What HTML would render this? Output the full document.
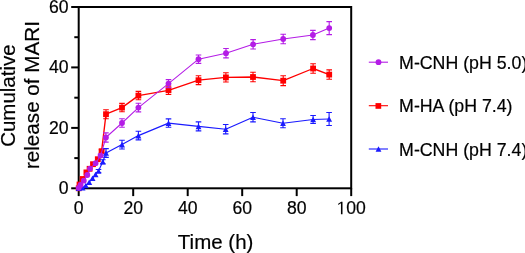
<!DOCTYPE html>
<html><head><meta charset="utf-8"><style>
html,body{margin:0;padding:0;background:#fff;}
body{width:525px;height:253px;overflow:hidden;}
svg{display:block;will-change:transform;}
text{font-family:"Liberation Sans",sans-serif;fill:#000;stroke:#000;stroke-width:0.2px;}
.tk{font-size:17.6px;}
.ti{font-size:20.5px;}
.lg{font-size:17.75px;}
</style></head><body>
<svg width="525" height="253" viewBox="0 0 525 253">
<rect x="78.7" y="7.0" width="272.5" height="181.3" fill="none" stroke="#000" stroke-width="2"/>
<path d="M71.2 188.3H78.7" stroke="#000" stroke-width="2"/>
<text x="68.6" y="194.3" text-anchor="end" class="tk">0</text>
<path d="M71.2 127.9H78.7" stroke="#000" stroke-width="2"/>
<text x="68.6" y="133.9" text-anchor="end" class="tk">20</text>
<path d="M71.2 67.4H78.7" stroke="#000" stroke-width="2"/>
<text x="68.6" y="73.4" text-anchor="end" class="tk">40</text>
<path d="M71.2 7.0H78.7" stroke="#000" stroke-width="2"/>
<text x="68.6" y="13.0" text-anchor="end" class="tk">60</text>
<path d="M74.3 158.1H78.7" stroke="#000" stroke-width="2"/>
<path d="M74.3 97.7H78.7" stroke="#000" stroke-width="2"/>
<path d="M74.3 37.2H78.7" stroke="#000" stroke-width="2"/>
<path d="M78.7 188.3V196.1" stroke="#000" stroke-width="2"/>
<text x="78.7" y="214.2" text-anchor="middle" class="tk">0</text>
<path d="M133.2 188.3V196.1" stroke="#000" stroke-width="2"/>
<text x="133.2" y="214.2" text-anchor="middle" class="tk">20</text>
<path d="M187.7 188.3V196.1" stroke="#000" stroke-width="2"/>
<text x="187.7" y="214.2" text-anchor="middle" class="tk">40</text>
<path d="M242.2 188.3V196.1" stroke="#000" stroke-width="2"/>
<text x="242.2" y="214.2" text-anchor="middle" class="tk">60</text>
<path d="M296.7 188.3V196.1" stroke="#000" stroke-width="2"/>
<text x="296.7" y="214.2" text-anchor="middle" class="tk">80</text>
<path d="M351.2 188.3V196.1" stroke="#000" stroke-width="2"/>
<path transform="translate(336.52,214.2) scale(0.008594,-0.008594)" d="M515 0L515 1280L197 1060L197 1226L540 1460L696 1460L696 0Z" fill="#000"/>
<text x="346.31" y="214.2" class="tk">00</text>
<polyline points="78.7,188.3 79.5,184.5 82.6,179.0 86.4,172.4 89.6,168.8 93.0,164.2 97.8,159.2 101.6,151.2 106.0,114.2 122.0,107.6 138.4,95.6 168.5,90.3 198.5,80.2 225.9,77.4 253.0,77.0 283.2,80.7 313.1,68.5 329.2,74.6" fill="none" stroke="#FF0000" stroke-width="1.35" stroke-linejoin="round"/>
<path d="M101.6 149.7V152.7M98.8 149.7h5.6M98.8 152.7h5.6" stroke="#FF0000" stroke-width="1.1" fill="none"/><path d="M106.0 109.7V118.7M103.2 109.7h5.6M103.2 118.7h5.6" stroke="#FF0000" stroke-width="1.1" fill="none"/><path d="M122.0 103.4V111.8M119.2 103.4h5.6M119.2 111.8h5.6" stroke="#FF0000" stroke-width="1.1" fill="none"/><path d="M138.4 91.4V99.8M135.6 91.4h5.6M135.6 99.8h5.6" stroke="#FF0000" stroke-width="1.1" fill="none"/><path d="M168.5 86.1V94.5M165.7 86.1h5.6M165.7 94.5h5.6" stroke="#FF0000" stroke-width="1.1" fill="none"/><path d="M198.5 75.8V84.6M195.7 75.8h5.6M195.7 84.6h5.6" stroke="#FF0000" stroke-width="1.1" fill="none"/><path d="M225.9 72.8V82.0M223.1 72.8h5.6M223.1 82.0h5.6" stroke="#FF0000" stroke-width="1.1" fill="none"/><path d="M253.0 72.3V81.7M250.2 72.3h5.6M250.2 81.7h5.6" stroke="#FF0000" stroke-width="1.1" fill="none"/><path d="M283.2 75.8V85.6M280.4 75.8h5.6M280.4 85.6h5.6" stroke="#FF0000" stroke-width="1.1" fill="none"/><path d="M313.1 63.8V73.2M310.3 63.8h5.6M310.3 73.2h5.6" stroke="#FF0000" stroke-width="1.1" fill="none"/><path d="M329.2 69.9V79.3M326.4 69.9h5.6M326.4 79.3h5.6" stroke="#FF0000" stroke-width="1.1" fill="none"/>
<rect x="75.8" y="185.4" width="5.8" height="5.8" fill="#FF0000"/>
<rect x="76.6" y="181.6" width="5.8" height="5.8" fill="#FF0000"/>
<rect x="79.7" y="176.1" width="5.8" height="5.8" fill="#FF0000"/>
<rect x="83.5" y="169.5" width="5.8" height="5.8" fill="#FF0000"/>
<rect x="86.7" y="165.9" width="5.8" height="5.8" fill="#FF0000"/>
<rect x="90.1" y="161.3" width="5.8" height="5.8" fill="#FF0000"/>
<rect x="94.9" y="156.3" width="5.8" height="5.8" fill="#FF0000"/>
<rect x="98.7" y="148.3" width="5.8" height="5.8" fill="#FF0000"/>
<rect x="103.1" y="111.3" width="5.8" height="5.8" fill="#FF0000"/>
<rect x="119.1" y="104.7" width="5.8" height="5.8" fill="#FF0000"/>
<rect x="135.5" y="92.7" width="5.8" height="5.8" fill="#FF0000"/>
<rect x="165.6" y="87.4" width="5.8" height="5.8" fill="#FF0000"/>
<rect x="195.6" y="77.3" width="5.8" height="5.8" fill="#FF0000"/>
<rect x="223.0" y="74.5" width="5.8" height="5.8" fill="#FF0000"/>
<rect x="250.1" y="74.1" width="5.8" height="5.8" fill="#FF0000"/>
<rect x="280.3" y="77.8" width="5.8" height="5.8" fill="#FF0000"/>
<rect x="310.2" y="65.6" width="5.8" height="5.8" fill="#FF0000"/>
<rect x="326.3" y="71.7" width="5.8" height="5.8" fill="#FF0000"/>
<polyline points="78.7,188.3 82.5,187.8 85.8,185.5 89.2,182.2 92.5,178.3 95.5,174.5 98.5,171.0 102.8,161.8 106.0,153.0 122.0,144.6 138.4,135.6 168.5,123.1 198.5,126.4 225.7,129.2 253.0,117.2 283.0,123.2 313.1,119.5 329.1,119.0" fill="none" stroke="#1A1AFF" stroke-width="1.15" stroke-linejoin="round"/>
<path d="M98.5 169.5V172.5M95.7 169.5h5.6M95.7 172.5h5.6" stroke="#1A1AFF" stroke-width="1.1" fill="none"/><path d="M102.8 159.8V163.8M100.0 159.8h5.6M100.0 163.8h5.6" stroke="#1A1AFF" stroke-width="1.1" fill="none"/><path d="M106.0 148.6V157.4M103.2 148.6h5.6M103.2 157.4h5.6" stroke="#1A1AFF" stroke-width="1.1" fill="none"/><path d="M122.0 140.2V149.0M119.2 140.2h5.6M119.2 149.0h5.6" stroke="#1A1AFF" stroke-width="1.1" fill="none"/><path d="M138.4 131.3V139.9M135.6 131.3h5.6M135.6 139.9h5.6" stroke="#1A1AFF" stroke-width="1.1" fill="none"/><path d="M168.5 118.9V127.3M165.7 118.9h5.6M165.7 127.3h5.6" stroke="#1A1AFF" stroke-width="1.1" fill="none"/><path d="M198.5 121.9V130.9M195.7 121.9h5.6M195.7 130.9h5.6" stroke="#1A1AFF" stroke-width="1.1" fill="none"/><path d="M225.7 124.5V133.9M222.9 124.5h5.6M222.9 133.9h5.6" stroke="#1A1AFF" stroke-width="1.1" fill="none"/><path d="M253.0 112.5V121.9M250.2 112.5h5.6M250.2 121.9h5.6" stroke="#1A1AFF" stroke-width="1.1" fill="none"/><path d="M283.0 118.7V127.7M280.2 118.7h5.6M280.2 127.7h5.6" stroke="#1A1AFF" stroke-width="1.1" fill="none"/><path d="M313.1 115.5V123.5M310.3 115.5h5.6M310.3 123.5h5.6" stroke="#1A1AFF" stroke-width="1.1" fill="none"/><path d="M329.1 112.5V125.5M326.3 112.5h5.6M326.3 125.5h5.6" stroke="#1A1AFF" stroke-width="1.1" fill="none"/>
<path d="M78.7 185.5L81.7 191.1L75.8 191.1Z" fill="#1A1AFF"/>
<path d="M82.5 185.0L85.5 190.6L79.5 190.6Z" fill="#1A1AFF"/>
<path d="M85.8 182.7L88.8 188.3L82.8 188.3Z" fill="#1A1AFF"/>
<path d="M89.2 179.4L92.2 185.0L86.2 185.0Z" fill="#1A1AFF"/>
<path d="M92.5 175.5L95.5 181.1L89.5 181.1Z" fill="#1A1AFF"/>
<path d="M95.5 171.7L98.5 177.3L92.5 177.3Z" fill="#1A1AFF"/>
<path d="M98.5 168.2L101.5 173.8L95.5 173.8Z" fill="#1A1AFF"/>
<path d="M102.8 159.0L105.8 164.6L99.8 164.6Z" fill="#1A1AFF"/>
<path d="M106.0 150.2L109.0 155.8L103.0 155.8Z" fill="#1A1AFF"/>
<path d="M122.0 141.8L125.0 147.4L119.0 147.4Z" fill="#1A1AFF"/>
<path d="M138.4 132.8L141.3 138.4L135.5 138.4Z" fill="#1A1AFF"/>
<path d="M168.5 120.3L171.4 125.9L165.6 125.9Z" fill="#1A1AFF"/>
<path d="M198.5 123.6L201.4 129.2L195.6 129.2Z" fill="#1A1AFF"/>
<path d="M225.7 126.4L228.6 132.0L222.8 132.0Z" fill="#1A1AFF"/>
<path d="M253.0 114.4L255.9 120.0L250.1 120.0Z" fill="#1A1AFF"/>
<path d="M283.0 120.4L285.9 126.0L280.1 126.0Z" fill="#1A1AFF"/>
<path d="M313.1 116.7L316.1 122.3L310.2 122.3Z" fill="#1A1AFF"/>
<path d="M329.1 116.2L332.1 121.8L326.2 121.8Z" fill="#1A1AFF"/>
<polyline points="78.7,187.8 80.6,185.0 83.8,180.7 87.3,175.0 90.0,168.6 95.6,163.2 100.6,155.6 105.9,137.5 122.0,123.0 138.4,107.6 168.5,83.6 198.5,59.2 226.0,53.2 253.1,44.3 283.2,39.0 312.9,35.0 329.2,28.1" fill="none" stroke="#B41CE6" stroke-width="1.05" stroke-linejoin="round"/>
<path d="M100.6 154.1V157.1M97.8 154.1h5.6M97.8 157.1h5.6" stroke="#B41CE6" stroke-width="1.1" fill="none"/><path d="M105.9 132.9V142.1M103.1 132.9h5.6M103.1 142.1h5.6" stroke="#B41CE6" stroke-width="1.1" fill="none"/><path d="M122.0 118.7V127.3M119.2 118.7h5.6M119.2 127.3h5.6" stroke="#B41CE6" stroke-width="1.1" fill="none"/><path d="M138.4 103.3V111.9M135.6 103.3h5.6M135.6 111.9h5.6" stroke="#B41CE6" stroke-width="1.1" fill="none"/><path d="M168.5 79.6V87.6M165.7 79.6h5.6M165.7 87.6h5.6" stroke="#B41CE6" stroke-width="1.1" fill="none"/><path d="M198.5 55.0V63.4M195.7 55.0h5.6M195.7 63.4h5.6" stroke="#B41CE6" stroke-width="1.1" fill="none"/><path d="M226.0 48.5V57.9M223.2 48.5h5.6M223.2 57.9h5.6" stroke="#B41CE6" stroke-width="1.1" fill="none"/><path d="M253.1 39.6V49.0M250.3 39.6h5.6M250.3 49.0h5.6" stroke="#B41CE6" stroke-width="1.1" fill="none"/><path d="M283.2 34.3V43.7M280.4 34.3h5.6M280.4 43.7h5.6" stroke="#B41CE6" stroke-width="1.1" fill="none"/><path d="M312.9 30.4V39.6M310.1 30.4h5.6M310.1 39.6h5.6" stroke="#B41CE6" stroke-width="1.1" fill="none"/><path d="M329.2 21.6V34.6M326.4 21.6h5.6M326.4 34.6h5.6" stroke="#B41CE6" stroke-width="1.1" fill="none"/>
<circle cx="78.7" cy="187.8" r="2.9" fill="#B41CE6"/>
<circle cx="80.6" cy="185.0" r="2.9" fill="#B41CE6"/>
<circle cx="83.8" cy="180.7" r="2.9" fill="#B41CE6"/>
<circle cx="87.3" cy="175.0" r="2.9" fill="#B41CE6"/>
<circle cx="90.0" cy="168.6" r="2.9" fill="#B41CE6"/>
<circle cx="95.6" cy="163.2" r="2.9" fill="#B41CE6"/>
<circle cx="100.6" cy="155.6" r="2.9" fill="#B41CE6"/>
<circle cx="105.9" cy="137.5" r="2.9" fill="#B41CE6"/>
<circle cx="122.0" cy="123.0" r="2.9" fill="#B41CE6"/>
<circle cx="138.4" cy="107.6" r="2.9" fill="#B41CE6"/>
<circle cx="168.5" cy="83.6" r="2.9" fill="#B41CE6"/>
<circle cx="198.5" cy="59.2" r="2.9" fill="#B41CE6"/>
<circle cx="226.0" cy="53.2" r="2.9" fill="#B41CE6"/>
<circle cx="253.1" cy="44.3" r="2.9" fill="#B41CE6"/>
<circle cx="283.2" cy="39.0" r="2.9" fill="#B41CE6"/>
<circle cx="312.9" cy="35.0" r="2.9" fill="#B41CE6"/>
<circle cx="329.2" cy="28.1" r="2.9" fill="#B41CE6"/>
<text x="215.6" y="248.5" text-anchor="middle" class="ti">Time (h)</text>
<text transform="translate(15,95.6) rotate(-90)" text-anchor="middle" class="ti">Cumulative</text>
<text transform="translate(39,95.1) rotate(-90)" text-anchor="middle" class="ti" style="font-size:20.65px">release of MARI</text>
<path d="M368.8 62.2H388.0" stroke="#B41CE6" stroke-width="1.1"/>
<circle cx="378.5" cy="62.2" r="2.9" fill="#B41CE6"/>
<text x="399.1" y="68.9" class="lg">M-CNH (pH 5.0)</text>
<path d="M368.8 105.7H388.0" stroke="#FF0000" stroke-width="1.1"/>
<rect x="375.5" y="103.1" width="5.7" height="5.7" fill="#FF0000"/>
<text x="399.1" y="112.4" class="lg">M-HA (pH 7.4)</text>
<path d="M368.8 149.0H388.0" stroke="#1A1AFF" stroke-width="1.1"/>
<path d="M378.5 146.2L381.4 151.8L375.6 151.8Z" fill="#1A1AFF"/>
<text x="399.1" y="155.7" class="lg">M-CNH (pH 7.4)</text>
</svg>
</body></html>
